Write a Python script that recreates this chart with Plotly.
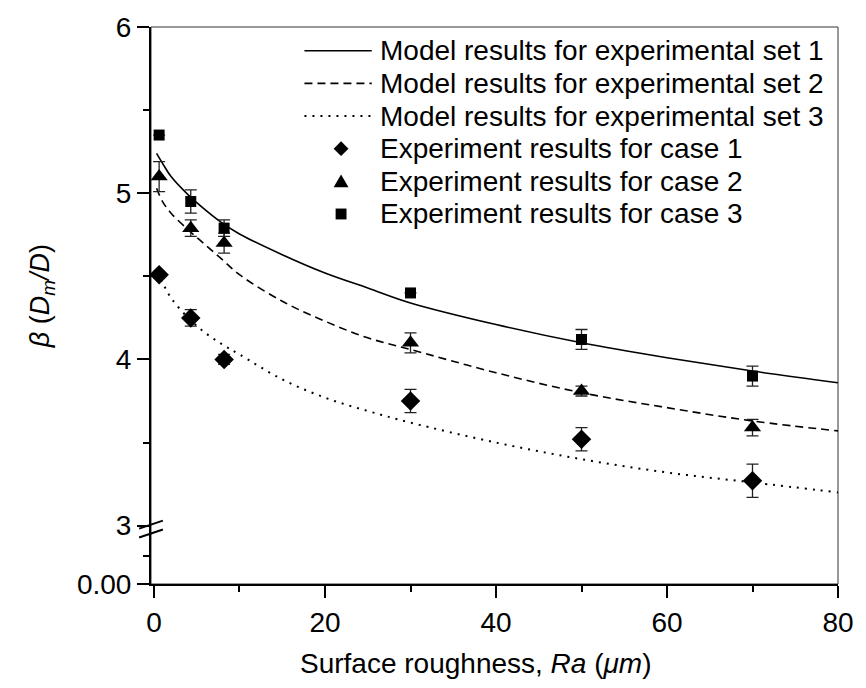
import plotly.graph_objects as go

# ---------------- data ----------------
ra_exp = [0.6, 4.3, 8.2, 30, 50, 70]
case1 = [4.51, 4.25, 4.00, 3.75, 3.52, 3.27]
err1 = [0.02, 0.05, 0.03, 0.07, 0.07, 0.10]
case2 = [5.10, 4.79, 4.70, 4.10, 3.81, 3.59]
err2 = [0.09, 0.05, 0.06, 0.06, 0.03, 0.05]
case3 = [5.35, 4.95, 4.79, 4.40, 4.12, 3.90]
err3 = [0.00, 0.07, 0.05, 0.00, 0.06, 0.06]

ra_model = [0.3, 1, 2, 4, 6, 8, 10, 15, 20, 25, 30, 40, 50, 60, 70, 80]
model1 = [5.24, 5.18, 5.10, 4.99, 4.90, 4.82, 4.755, 4.63, 4.52, 4.43, 4.34, 4.21, 4.10, 4.01, 3.93, 3.86]
model2 = [5.03, 4.95, 4.88, 4.78, 4.69, 4.60, 4.51, 4.35, 4.23, 4.13, 4.06, 3.92, 3.80, 3.71, 3.63, 3.57]
model3 = [4.52, 4.46, 4.37, 4.25, 4.16, 4.09, 4.03, 3.88, 3.77, 3.69, 3.62, 3.50, 3.40, 3.32, 3.26, 3.20]

names = ["Model results for experimental set 1",
         "Model results for experimental set 2",
         "Model results for experimental set 3",
         "Experiment results for case 1",
         "Experiment results for case 2",
         "Experiment results for case 3"]

y_low = 2.649  # position of the "0.00" segment of the broken axis
y_tickvals = [y_low, 3, 4, 5, 6]
y_ticktext = ["0.00", "3", "4", "5", "6"]
y_minor = [2.82, 3.5, 4.5, 5.5]
x_tickvals = [0, 20, 40, 60, 80]

FONT = "Liberation Sans, Arial, sans-serif"
W, H = 866, 688
ML, MR, MT, MB = 151, 21, 21, 104
PW, PH = W - ML - MR, H - MT - MB


def px(xp):
    return (xp - ML) / PW


def py(yp):
    return 1 - (yp - MT) / PH


fig = go.Figure()

dashes = ["solid", "8px,5px", "2px,6px"]
widths = [1.6, 1.6, 2.0]
for yv, nm, ds, wd in zip([model1, model2, model3], names[:3], dashes, widths):
    fig.add_trace(go.Scatter(x=ra_model, y=yv, mode="lines", line_shape="spline",
                             line=dict(color="black", width=wd, dash=ds),
                             name=nm, showlegend=False))

eb = dict(type="data", thickness=1.3, width=6, color="#222")
symbols = ["diamond", "triangle-up", "square"]
msizes = [15, 15, 11]
for yv, ev, nm, sym, ms in zip([case1, case2, case3], [err1, err2, err3],
                               names[3:], symbols, msizes):
    fig.add_trace(go.Scatter(x=ra_exp, y=yv, mode="markers",
                             marker=dict(symbol=sym, size=ms, color="black"),
                             error_y=dict(array=ev, **eb),
                             name=nm, showlegend=False))

# thin frame (top / right)
fig.add_shape(type="rect", xref="paper", yref="paper", x0=0, x1=1, y0=0, y1=1,
              line=dict(color="#333", width=1), layer="below")
# axis-break marks
for dy in (0.0, -0.053):
    fig.add_shape(type="line", xref="paper", yref="y",
                  x0=-0.0173, x1=0.0173, y0=2.982 + dy, y1=3.03 + dy,
                  line=dict(color="black", width=2))

# ---------------- legend (drawn manually, Origin style) ----------------
leg_y = [45, 78, 111, 144, 177, 210]
text_x = 380
for i, nm in enumerate(names):
    yc = leg_y[i]
    fig.add_annotation(xref="paper", yref="paper", x=px(text_x), y=py(yc),
                       text=nm, showarrow=False, xanchor="left", yanchor="middle",
                       font=dict(size=28, family=FONT, color="black"))
for i in range(3):
    yc = leg_y[i]
    fig.add_shape(type="line", xref="paper", yref="paper",
                  x0=px(306), x1=px(374), y0=py(yc), y1=py(yc),
                  line=dict(color="black", width=widths[i], dash=dashes[i]))
mx = 343
yc = leg_y[3]
fig.add_shape(type="path", xref="paper", yref="paper",
              path=f"M {px(mx-7.5)} {py(yc)} L {px(mx)} {py(yc-7.5)} L {px(mx+7.5)} {py(yc)} L {px(mx)} {py(yc+7.5)} Z",
              fillcolor="black", line=dict(width=0))
yc = leg_y[4]
fig.add_shape(type="path", xref="paper", yref="paper",
              path=f"M {px(mx-7.5)} {py(yc+6)} L {px(mx+7.5)} {py(yc+6)} L {px(mx)} {py(yc-7)} Z",
              fillcolor="black", line=dict(width=0))
yc = leg_y[5]
fig.add_shape(type="rect", xref="paper", yref="paper",
              x0=px(mx-5.5), x1=px(mx+5.5), y0=py(yc+5.5), y1=py(yc-5.5),
              fillcolor="black", line=dict(width=0))

# axis titles (placed like the original)
fig.add_annotation(xref="paper", yref="paper", x=px(479), y=py(664),
                   text="Surface roughness, <i>Ra</i> (<i>μm</i>)", showarrow=False,
                   xanchor="center", yanchor="middle",
                   font=dict(size=28, family=FONT, color="black"))
fig.add_annotation(xref="paper", yref="paper", x=px(41), y=py(293),
                   text="<i>β</i> (<i>D</i><sub><i>m</i></sub><i>/D</i>)", showarrow=False,
                   textangle=-90, xanchor="center", yanchor="middle",
                   font=dict(size=27, family=FONT, color="black"))

fig.update_layout(
    width=W, height=H,
    margin=dict(l=ML, r=MR, t=MT, b=MB),
    paper_bgcolor="white", plot_bgcolor="white",
    font=dict(family=FONT, color="black"),
    showlegend=False,
    xaxis=dict(range=[-0.35, 80], tickvals=x_tickvals, ticks="outside",
               ticklen=12, tickwidth=2, tickcolor="black",
               showline=True, linecolor="black", linewidth=2,
               showgrid=False, zeroline=False,
               tickfont=dict(size=28, family=FONT),
               minor=dict(tickvals=[10, 30, 50, 70], ticks="outside", ticklen=6,
                          tickwidth=2, tickcolor="black")),
    yaxis=dict(range=[y_low, 6.0], tickvals=y_tickvals, ticktext=y_ticktext,
               ticks="outside", ticklen=12, tickwidth=2, tickcolor="black",
               showline=True, linecolor="black", linewidth=2,
               showgrid=False, zeroline=False,
               tickfont=dict(size=28, family=FONT),
               minor=dict(tickvals=y_minor, ticks="outside", ticklen=6,
                          tickwidth=2, tickcolor="black")),
)

fig.write_html("out.html")
